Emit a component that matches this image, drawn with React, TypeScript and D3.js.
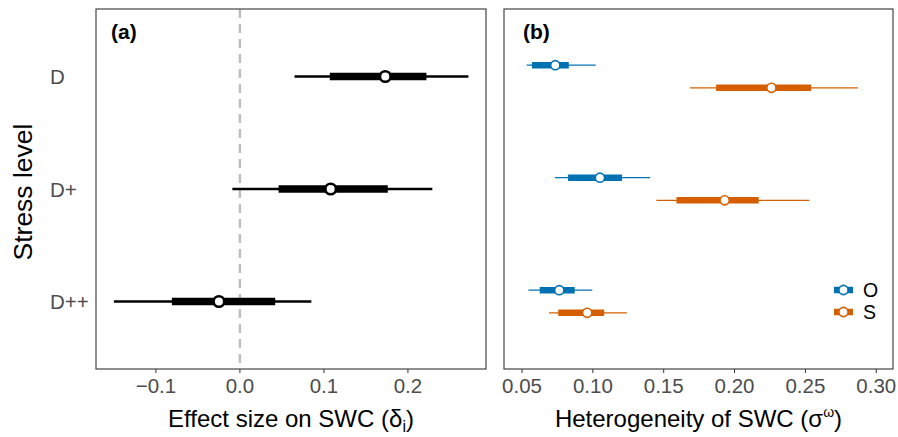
import React from "react";
import * as d3 from "d3";

// stress levels (top to bottom)
const levels = ["D", "D+", "D++"];

// panel (a): effect size on SWC, [lo95, lo50, median, hi50, hi95]
const effectLo95 = [0.065, -0.009, -0.15];
const effectLo50 = [0.107, 0.046, -0.081];
const effectMid = [0.173, 0.108, -0.025];
const effectHi50 = [0.222, 0.176, 0.042];
const effectHi95 = [0.272, 0.229, 0.085];

// panel (b): heterogeneity, groups O and S
const groups = ["O", "S"];
const groupColors = ["#0072B2", "#D55E00"];
const hetLo95 = [
  [0.0533, 0.0733, 0.0545],
  [0.1686, 0.1448, 0.069],
];
const hetLo50 = [
  [0.057, 0.0825, 0.0625],
  [0.187, 0.159, 0.0756],
];
const hetMid = [
  [0.0735, 0.105, 0.0763],
  [0.226, 0.193, 0.096],
];
const hetHi50 = [
  [0.083, 0.1206, 0.0872],
  [0.254, 0.217, 0.108],
];
const hetHi95 = [
  [0.102, 0.1405, 0.0996],
  [0.287, 0.2528, 0.124],
];

const ticksA = [-0.1, 0.0, 0.1, 0.2];
const ticksB = [0.05, 0.1, 0.15, 0.2, 0.25, 0.3];

const W = 898;
const H = 437;
const top = 9;
const bottom = 369;
const aLeft = 96;
const aRight = 486;
const bLeft = 504;
const bRight = 893;
const font = "'Liberation Sans', Arial, sans-serif";
const grey = "#4D4D4D";

const fmtA = (v: number) => (v < 0 ? "\u2212" + d3.format(".1f")(-v) : d3.format(".1f")(v));
const fmtB = d3.format(".2f");

export default function App() {
  const y = d3.scalePoint<string>().domain(levels).range([top, bottom]).padding(0.6);
  const xA = d3.scaleLinear().domain([-0.1713, 0.2929]).range([aLeft, aRight]);
  const xB = d3.scaleLinear().domain([0.0373, 0.3118]).range([bLeft, bRight]);
  const dodge = 11.3;

  return (
    <svg width={W} height={H} style={{ position: "absolute", left: 0, top: 0 }} fontFamily={font}>
      <rect width={W} height={H} fill="white" />

      {/* y axis title and category labels */}
      <text
        transform={`translate(32,${(top + bottom) / 2 + 3}) rotate(-90)`}
        textAnchor="middle"
        fontSize={26.5}
        fill="black"
      >
        Stress level
      </text>
      {levels.map((l) => (
        <text key={l} x={50} y={y(l)! + 7.5} fontSize={20.5} fill={grey}>
          {l}
        </text>
      ))}

      {/* panel a */}
      <line
        x1={xA(0)}
        x2={xA(0)}
        y1={top}
        y2={bottom}
        stroke="#BEBEBE"
        strokeWidth={2.4}
        strokeDasharray="9,6"
      />
      {levels.map((l, i) => (
        <g key={l}>
          <line x1={xA(effectLo95[i])} x2={xA(effectHi95[i])} y1={y(l)} y2={y(l)} stroke="black" strokeWidth={2.3} />
          <line x1={xA(effectLo50[i])} x2={xA(effectHi50[i])} y1={y(l)} y2={y(l)} stroke="black" strokeWidth={7.5} />
          <circle cx={xA(effectMid[i])} cy={y(l)} r={5.3} fill="white" stroke="black" strokeWidth={2.6} />
        </g>
      ))}
      <rect x={aLeft} y={top} width={aRight - aLeft} height={bottom - top} fill="none" stroke="#333" strokeWidth={1.1} />
      <text x={111} y={39} fontSize={21} fontWeight="bold">(a)</text>
      {ticksA.map((t) => (
        <g key={t}>
          <line x1={xA(t)} x2={xA(t)} y1={bottom} y2={bottom + 4} stroke="#333" />
          <text x={xA(t)} y={393} textAnchor="middle" fontSize={20.5} fill={grey}>
            {fmtA(t)}
          </text>
        </g>
      ))}
      <text x={(aLeft + aRight) / 2} y={427} textAnchor="middle" fontSize={24}>
        Effect size on SWC (δ<tspan fontSize={16} dy={5}>i</tspan>
        <tspan dy={-5}>)</tspan>
      </text>

      {/* panel b */}
      {groups.map((g, gi) =>
        levels.map((l, i) => {
          const cy = y(l)! + (gi === 0 ? -dodge : dodge);
          const c = groupColors[gi];
          return (
            <g key={g + l}>
              <line x1={xB(hetLo95[gi][i])} x2={xB(hetHi95[gi][i])} y1={cy} y2={cy} stroke={c} strokeWidth={1.3} />
              <line x1={xB(hetLo50[gi][i])} x2={xB(hetHi50[gi][i])} y1={cy} y2={cy} stroke={c} strokeWidth={6.5} />
              <circle cx={xB(hetMid[gi][i])} cy={cy} r={4.6} fill="white" stroke={c} strokeWidth={1.6} />
            </g>
          );
        })
      )}
      <rect x={bLeft} y={top} width={bRight - bLeft} height={bottom - top} fill="none" stroke="#333" strokeWidth={1.1} />
      <text x={523} y={39} fontSize={21} fontWeight="bold">(b)</text>
      {ticksB.map((t) => (
        <g key={t}>
          <line x1={xB(t)} x2={xB(t)} y1={bottom} y2={bottom + 4} stroke="#333" />
          <text x={xB(t)} y={393} textAnchor="middle" fontSize={20.5} fill={grey}>
            {fmtB(t)}
          </text>
        </g>
      ))}
      <text x={(bLeft + bRight) / 2} y={427} textAnchor="middle" fontSize={24}>
        Heterogeneity of SWC (σ<tspan fontSize={14} dy={-10}>ω</tspan>
        <tspan dy={10}>)</tspan>
      </text>

      {/* legend */}
      {groups.map((g, gi) => {
        const ly = 290 + gi * 22;
        return (
          <g key={g}>
            <line x1={834} x2={853} y1={ly} y2={ly} stroke={groupColors[gi]} strokeWidth={6.5} />
            <circle cx={843.5} cy={ly} r={4.6} fill="white" stroke={groupColors[gi]} strokeWidth={1.6} />
            <text x={863} y={ly + 7} fontSize={19.5}>
              {g}
            </text>
          </g>
        );
      })}
    </svg>
  );
}
